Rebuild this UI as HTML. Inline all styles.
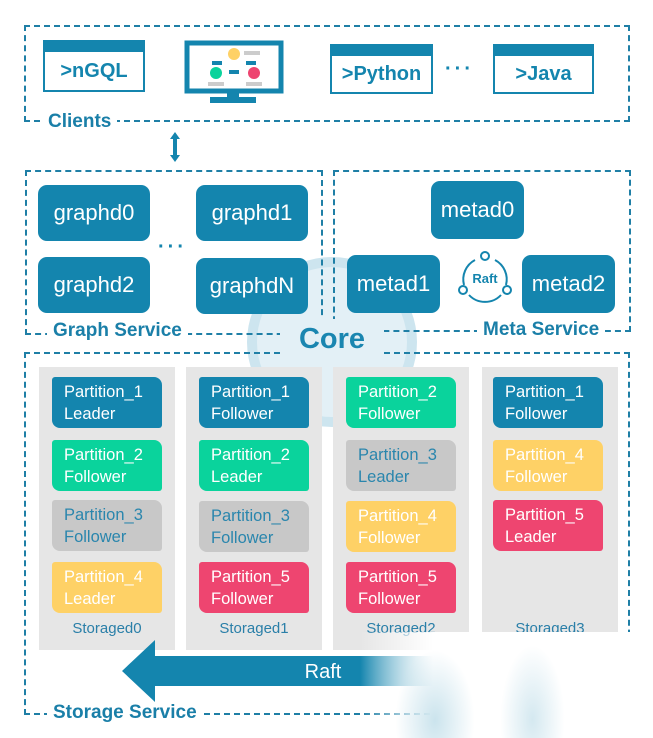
<!DOCTYPE html>
<html><head><meta charset="utf-8"><style>
body{margin:0;width:653px;height:738px;background:#fff;position:relative;overflow:hidden;font-family:"Liberation Sans",sans-serif}
.a{position:absolute}
.dash{position:absolute;border:2px dashed #1f7fa6}
.lbl{position:absolute;color:#1a7fa8;font-weight:bold;font-size:19px;background:#fff;padding:0 6px;line-height:22px}
.node{position:absolute;background:#1485ae;color:#fff;border-radius:9px;font-size:22px;display:flex;align-items:center;justify-content:center}
.col{position:absolute;background:#e6e6e6;width:136px;top:367px;height:283px}
.p{position:absolute;width:110px;height:51px;color:#fff;font-size:16.5px;line-height:22px;padding:4px 0 0 12px;box-sizing:border-box;border-radius:3px 8px 3px 8px}
.B{background:#1485ae}.G{background:#0ad39c}.Y{background:#fed166;color:#fff}.R{background:#ee4570}.S{background:#c8c8c8;color:#2a86ad}
.st{position:absolute;color:#2a7fa8;font-size:15px;width:136px;text-align:center;top:620px}
.win{position:absolute;border:2px solid #1485ae;border-top:12px solid #1485ae;color:#1485ae;font-weight:bold;font-size:20px;display:flex;align-items:center;justify-content:center;box-sizing:border-box;background:#fff}
</style></head><body>
<div class="dash" style="left:24px;top:25px;width:602px;height:93px"></div>
<div class="lbl" style="left:42px;top:111px">Clients</div>
<div class="win" style="left:43px;top:40px;width:102px;height:52px">&gt;nGQL</div>
<div class="win" style="left:330px;top:44px;width:103px;height:50px">&gt;Python</div>
<div class="win" style="left:493px;top:44px;width:101px;height:50px">&gt;Java</div>
<div class="a" style="left:445px;top:58px;font-size:20px;color:#1485ae;font-weight:bold;letter-spacing:3px">···</div>
<svg class="a" style="left:184px;top:40px" width="102" height="66">
<rect x="3" y="3" width="94" height="48" fill="none" stroke="#1485ae" stroke-width="5"/>
<rect x="43" y="51" width="12" height="7" fill="#1485ae"/><rect x="26" y="57" width="46" height="6" fill="#1485ae"/>
<circle cx="50" cy="14" r="6" fill="#fed166"/><circle cx="32" cy="33" r="6" fill="#0ad39c"/><circle cx="70" cy="33" r="6" fill="#ee4570"/>
<rect x="60" y="11" width="16" height="4" fill="#ccc"/><rect x="28" y="21" width="10" height="4" fill="#1485ae"/><rect x="62" y="21" width="10" height="4" fill="#1485ae"/><rect x="45" y="30" width="10" height="4" fill="#1485ae"/>
<rect x="24" y="42" width="16" height="4" fill="#ccc"/><rect x="62" y="42" width="16" height="4" fill="#ccc"/>
</svg>
<svg class="a" style="left:168px;top:131px" width="14" height="32"><path d="M7 1 L12 8 H9 V24 H12 L7 31 L2 24 H5 V8 H2Z" fill="#1485ae"/></svg>
<svg class="a" style="left:245px;top:255px" width="175" height="175"><circle cx="87" cy="87" r="80" fill="#e3f0f6" stroke="#cde5ef" stroke-width="10"/></svg>
<div class="dash" style="left:25px;top:170px;width:294px;height:161px;background:transparent"></div>
<div class="dash" style="left:333px;top:170px;width:294px;height:158px"></div>
<div class="node" style="left:38px;top:185px;width:112px;height:56px">graphd0</div>
<div class="node" style="left:196px;top:185px;width:112px;height:56px">graphd1</div>
<div class="node" style="left:38px;top:257px;width:112px;height:56px">graphd2</div>
<div class="node" style="left:196px;top:258px;width:112px;height:56px">graphdN</div>
<div class="a" style="left:158px;top:236px;font-size:20px;color:#1485ae;font-weight:bold;letter-spacing:3px">···</div>
<div class="node" style="left:431px;top:181px;width:93px;height:58px">metad0</div>
<div class="node" style="left:347px;top:255px;width:93px;height:58px">metad1</div>
<div class="node" style="left:522px;top:255px;width:93px;height:58px">metad2</div>
<svg class="a" style="left:455px;top:248px" width="60" height="58"><path d="M20 12 A22 22 0 0 0 9 37 M40 12 A22 22 0 0 1 51 37 M14 47 A22 22 0 0 0 46 47" fill="none" stroke="#1485ae" stroke-width="2"/><circle cx="30" cy="8" r="4" fill="#fff" stroke="#1485ae" stroke-width="2"/><circle cx="8" cy="42" r="4" fill="#fff" stroke="#1485ae" stroke-width="2"/><circle cx="52" cy="42" r="4" fill="#fff" stroke="#1485ae" stroke-width="2"/><text x="30" y="35" text-anchor="middle" font-family="Liberation Sans" font-weight="bold" font-size="13" fill="#1485ae">Raft</text></svg>
<div class="lbl" style="left:47px;top:320px">Graph Service</div>
<div class="lbl" style="left:477px;top:319px">Meta Service</div>
<div class="dash" style="left:24px;top:352px;width:602px;height:359px"></div>
<div class="lbl" style="left:47px;top:702px">Storage Service</div>
<div class="a" style="left:280px;top:319px;width:104px;text-align:center;font-size:29px;font-weight:bold;color:#1a86b0;background:#e3f0f6;line-height:40px">Core</div>
<div class="col" style="left:39px"></div><div class="col" style="left:186px"></div><div class="col" style="left:333px"></div><div class="col" style="left:482px"></div>
<div class="p B" style="left:52px;top:377px">Partition_1<br>Leader</div>
<div class="p G" style="left:52px;top:440px">Partition_2<br>Follower</div>
<div class="p S" style="left:52px;top:500px">Partition_3<br>Follower</div>
<div class="p Y" style="left:52px;top:562px">Partition_4<br>Leader</div>
<div class="p B" style="left:199px;top:377px">Partition_1<br>Follower</div>
<div class="p G" style="left:199px;top:440px">Partition_2<br>Leader</div>
<div class="p S" style="left:199px;top:501px">Partition_3<br>Follower</div>
<div class="p R" style="left:199px;top:562px">Partition_5<br>Follower</div>
<div class="p G" style="left:346px;top:377px">Partition_2<br>Follower</div>
<div class="p S" style="left:346px;top:440px">Partition_3<br>Leader</div>
<div class="p Y" style="left:346px;top:501px">Partition_4<br>Follower</div>
<div class="p R" style="left:346px;top:562px">Partition_5<br>Follower</div>
<div class="p B" style="left:493px;top:377px">Partition_1<br>Follower</div>
<div class="p Y" style="left:493px;top:440px">Partition_4<br>Follower</div>
<div class="p R" style="left:493px;top:500px">Partition_5<br>Leader</div>
<div class="st" style="left:39px">Storaged0</div><div class="st" style="left:186px">Storaged1</div><div class="st" style="left:333px">Storaged2</div><div class="st" style="left:482px">Storaged3</div>
<svg class="a" style="left:120px;top:638px" width="320" height="66"><defs><linearGradient id="g" x1="0" x2="1"><stop offset="0.75" stop-color="#1485ae"/><stop offset="1" stop-color="#1485ae" stop-opacity="0.3"/></linearGradient></defs><path d="M2 33 L35 2 V18 H320 V48 H35 V64Z" fill="url(#g)"/><text x="203" y="40" text-anchor="middle" font-family="Liberation Sans" font-size="20" fill="#fff">Raft</text></svg>
<div class="a" style="left:360px;top:632px;width:293px;height:106px;background:linear-gradient(90deg,rgba(255,255,255,0),#fff 25%,#fff)"></div>
<div class="a" style="left:395px;top:650px;width:80px;height:88px;background:radial-gradient(ellipse at 50% 80%,rgba(160,205,222,0.55),rgba(160,205,222,0) 70%);"></div>
<div class="a" style="left:500px;top:645px;width:65px;height:93px;background:radial-gradient(ellipse at 50% 80%,rgba(160,205,222,0.45),rgba(160,205,222,0) 70%);"></div>
</body></html>
